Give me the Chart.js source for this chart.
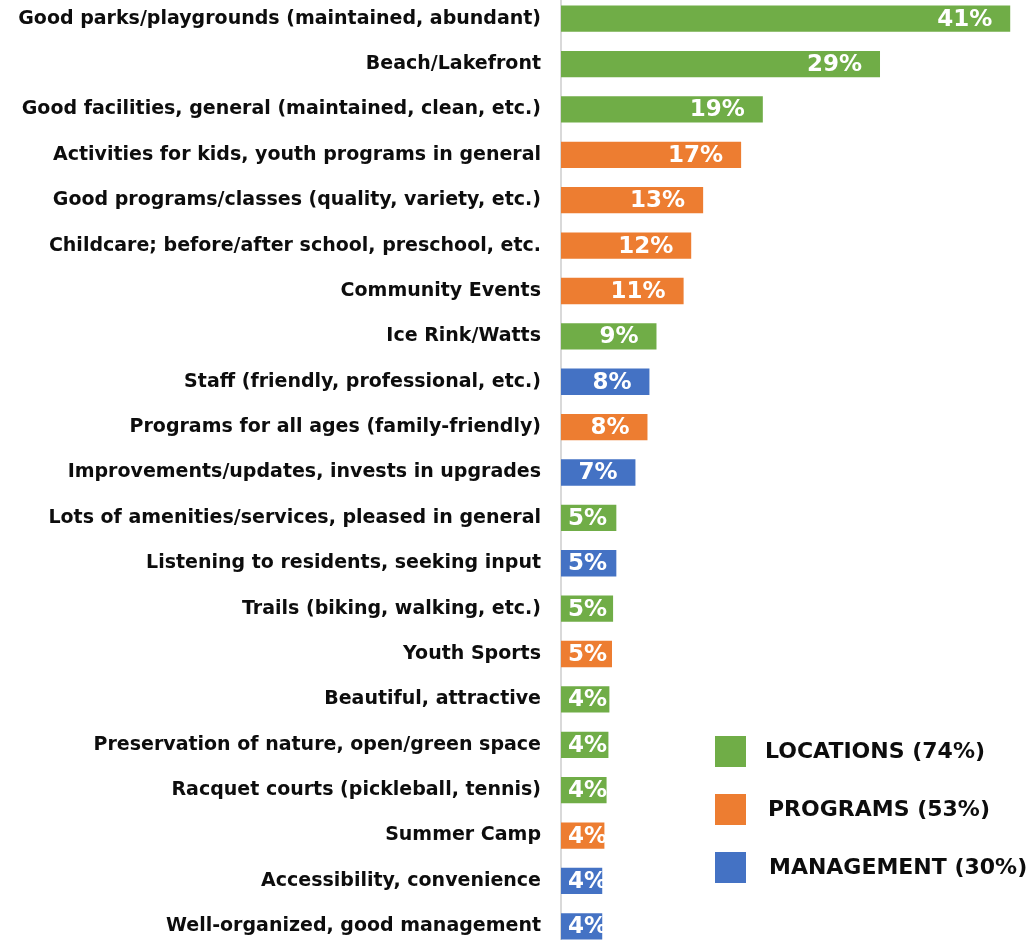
<!DOCTYPE html>
<html><head><meta charset="utf-8">
<script src="https://cdn.jsdelivr.net/npm/chart.js@4/dist/chart.umd.min.js"></script>
<style>
html,body{margin:0;padding:0;background:#fff;overflow:hidden;width:1033px;height:940px}
#wrap{position:absolute;left:0;top:-4px;width:1033px;height:953px}
</style></head>
<body><div id="wrap"><canvas id="c"></canvas></div>
<script>
const categories = [
  "Good parks/playgrounds (maintained, abundant)",
  "Beach/Lakefront",
  "Good facilities, general (maintained, clean, etc.)",
  "Activities for kids, youth programs in general",
  "Good programs/classes (quality, variety, etc.)",
  "Childcare; before/after school, preschool, etc.",
  "Community Events",
  "Ice Rink/Watts",
  "Staff (friendly, professional, etc.)",
  "Programs for all ages (family-friendly)",
  "Improvements/updates, invests in upgrades",
  "Lots of amenities/services, pleased in general",
  "Listening to residents, seeking input",
  "Trails (biking, walking, etc.)",
  "Youth Sports",
  "Beautiful, attractive",
  "Preservation of nature, open/green space",
  "Racquet courts (pickleball, tennis)",
  "Summer Camp",
  "Accessibility, convenience",
  "Well-organized, good management"
];
const values = [41.4, 29.4, 18.6, 16.6, 13.1, 12.0, 11.3, 8.8, 8.15, 7.97, 6.86, 5.1, 5.1, 4.8, 4.7, 4.46, 4.37, 4.2, 4.0, 3.8, 3.8];
const groups = ["L","L","L","P","P","P","P","L","M","P","M","L","M","L","P","L","L","L","P","M","M"];
const groupKeys = ["L","P","M"];
const groupNames = ["LOCATIONS (74%)", "PROGRAMS (53%)", "MANAGEMENT (30%)"];
const groupColors = {L:"#70AD47", P:"#ED7D31", M:"#4472C4"};

const FONT = "'DejaVu Sans', Verdana, sans-serif";

const valueLabels = {
  id: "valueLabels",
  afterDatasetsDraw(chart) {
    const ctx = chart.ctx;
    const meta = chart.getDatasetMeta(0);
    ctx.save();
    ctx.font = "bold 23px " + FONT;
    ctx.fillStyle = "#ffffff";
    ctx.textAlign = "right";
    ctx.textBaseline = "middle";
    meta.data.forEach((bar, i) => {
      const txt = Math.round(values[i]) + "%";
      const w = ctx.measureText(txt).width;
      const x = Math.max(bar.x - 18, bar.base + 7 + w);
      ctx.fillText(txt, x, bar.y + 1);
    });
    ctx.restore();
  }
};

const legendBox = {
  id: "legendBox",
  afterDraw(chart) {
    const ctx = chart.ctx;
    ctx.save();
    ctx.font = "bold 22px " + FONT;
    ctx.textBaseline = "middle";
    ctx.textAlign = "left";
    const textX = [765, 768, 769];
    groupKeys.forEach((k, i) => {
      const y = 740 + i * 58;
      ctx.fillStyle = groupColors[k];
      ctx.fillRect(715, y, 31, 31);
      ctx.fillStyle = "#0d0d0d";
      ctx.fillText(groupNames[i], textX[i], y + 16);
    });
    ctx.restore();
  }
};

new Chart(document.getElementById("c"), {
  type: "bar",
  data: {
    labels: categories,
    datasets: [{
      data: values,
      backgroundColor: groups.map(g => groupColors[g]),
      borderWidth: 0,
      categoryPercentage: 1.0,
      barPercentage: 0.58
    }]
  },
  options: {
    indexAxis: "y",
    responsive: true,
    maintainAspectRatio: false,
    animation: false,
    layout: { padding: 0 },
    plugins: { legend: { display: false }, tooltip: { enabled: false } },
    scales: {
      x: { display: false, min: 0, max: 43.5 },
      y: {
        afterFit(scale) {
          scale.width = 561;
          scale.paddingTop = 0;
          scale.paddingBottom = 0;
        },
        grid: { display: false, drawTicks: false },
        border: { display: true, color: "#d9d9d9", width: 2 },
        ticks: {
          autoSkip: false,
          padding: 20,
          color: "#0d0d0d",
          font: { family: FONT, weight: "bold", size: 19 }
        }
      }
    }
  },
  plugins: [valueLabels, legendBox]
});
</script>
</body></html>
